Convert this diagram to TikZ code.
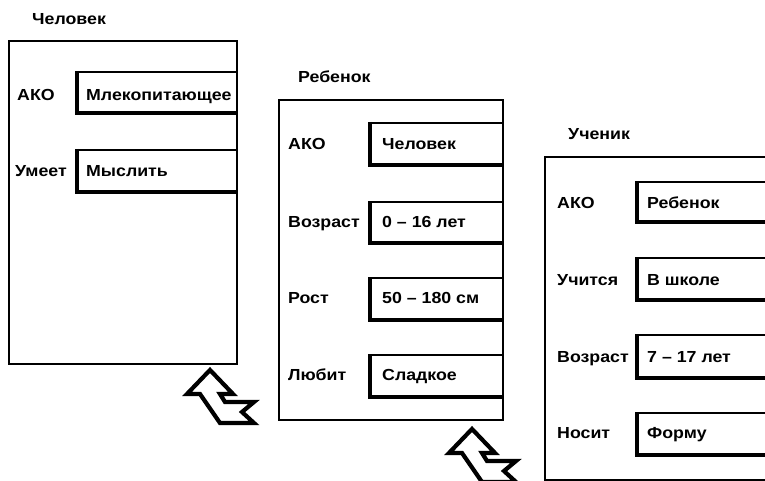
\documentclass[tikz,border=0pt]{standalone}
\usepackage{fontspec}
\setmainfont{Liberation Sans}[FakeStretch=1.11]
\begin{document}
\begin{tikzpicture}[x=1pt,y=-1pt,
  frame/.style={line width=2.4pt},
  slot/.style={line width=2.2pt,fill=white},
  shade/.style={line width=3.4pt,line cap=butt,line join=miter},
  lbl/.style={anchor=base west,inner sep=0pt,font=\fontsize{16}{19}\selectfont\bfseries},
  inherit/.style={line width=4.2pt,line join=miter,fill=white}]
\useasboundingbox (0,0) rectangle (765,481);
\clip (0,0) rectangle (765,481);
% ---------- Человек ----------
\node[lbl] (t1) at (32,25) {Человек};
\foreach \ya/\yb in {72/113,150/192}{
  \draw[slot] (77,\ya) rectangle (237,\yb);
  \draw[shade] (77,\ya-1) -- (77,\yb) -- (236,\yb);
}
\draw[frame] (9,41) rectangle (237,364);
\node[lbl] (a1) at (17,101) {АКО};
\node[lbl] (v1) at (86,101) {Млекопитающее};
\node[lbl] (a2) at (15,177) {Умеет};
\node[lbl] (v2) at (86,177) {Мыслить};
% ---------- Ребенок ----------
\node[lbl] (t2) at (298,83) {Ребенок};
\foreach \ya/\yb in {123/165,202/243,278/320,355/397}{
  \draw[slot] (370,\ya) rectangle (503,\yb);
  \draw[shade] (370,\ya-1) -- (370,\yb) -- (502,\yb);
}
\draw[frame] (279,100) rectangle (503,420);
\node[lbl] (b1) at (288,150) {АКО};
\node[lbl] (w1) at (382,150) {Человек};
\node[lbl] (b2) at (288,227) {Возраст};
\node[lbl] (w2) at (382,227) {0 – 16 лет};
\node[lbl] (b3) at (288,303) {Рост};
\node[lbl] (w3) at (382,303) {50 – 180 см};
\node[lbl] (b4) at (288,380) {Любит};
\node[lbl] (w4) at (382,380) {Сладкое};
% ---------- Ученик ----------
\node[lbl] (t3) at (568,140) {Ученик};
\draw[frame] (545,157) rectangle (790,480);
\foreach \ya/\yb in {182/222,258/300,335/378,413/455}{
  \draw[slot] (637,\ya) rectangle (790,\yb);
  \draw[shade] (637,\ya-1) -- (637,\yb) -- (790,\yb);
}
\node[lbl] (c1) at (557,208) {АКО};
\node[lbl] (u1) at (647,208) {Ребенок};
\node[lbl] (c2) at (557,285) {Учится};
\node[lbl] (u2) at (647,285) {В школе};
\node[lbl] (c3) at (557,362) {Возраст};
\node[lbl] (u3) at (647,362) {7 – 17 лет};
\node[lbl] (c4) at (557,438) {Носит};
\node[lbl] (u4) at (647,438) {Форму};
% ---------- inheritance arrows ----------
\foreach \dx/\dy in {0/0,262/59}{
  \draw[inherit,shift={(\dx,\dy)}]
    (210,370) -- (233,394) -- (220,394) -- (225,402) -- (254,402)
    -- (242,412) -- (254,423) -- (220,423) -- (200,394) -- (187,394) -- cycle;
}
\end{tikzpicture}
\end{document}
